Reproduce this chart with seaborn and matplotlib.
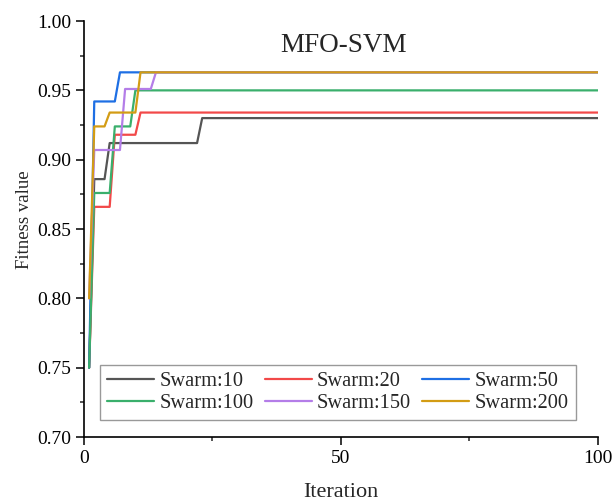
import numpy as np
import pandas as pd
import matplotlib
matplotlib.use("Agg")
import matplotlib.pyplot as plt
from matplotlib.ticker import MultipleLocator
import seaborn as sns

# ---- data (change points; values held constant between them) ----
iterations = list(range(1, 101))
swarm_labels = ["Swarm:10", "Swarm:20", "Swarm:50", "Swarm:100", "Swarm:150", "Swarm:200"]

swarm10_iter = [1, 2, 4, 5, 22, 23, 100]
swarm10_val = [0.750, 0.886, 0.886, 0.912, 0.912, 0.930, 0.930]

swarm20_iter = [1, 2, 5, 6, 10, 11, 100]
swarm20_val = [0.750, 0.866, 0.866, 0.918, 0.918, 0.934, 0.934]

swarm50_iter = [1, 2, 6, 7, 100]
swarm50_val = [0.750, 0.942, 0.942, 0.963, 0.963]

swarm100_iter = [1, 2, 5, 6, 9, 10, 100]
swarm100_val = [0.750, 0.876, 0.876, 0.924, 0.924, 0.950, 0.950]

swarm150_iter = [1, 2, 7, 8, 13, 14, 100]
swarm150_val = [0.800, 0.907, 0.907, 0.951, 0.951, 0.963, 0.963]

swarm200_iter = [1, 2, 4, 5, 10, 11, 100]
swarm200_val = [0.800, 0.924, 0.924, 0.934, 0.934, 0.963, 0.963]

colors = ["#555555", "#f24949", "#1e6fe4", "#3aaf6c", "#b47de8", "#d39c14"]

series_pts = [
    (swarm10_iter, swarm10_val),
    (swarm20_iter, swarm20_val),
    (swarm50_iter, swarm50_val),
    (swarm100_iter, swarm100_val),
    (swarm150_iter, swarm150_val),
    (swarm200_iter, swarm200_val),
]

frames = []
for label, (its, vals) in zip(swarm_labels, series_pts):
    s = pd.Series(vals, index=its).reindex(iterations).ffill()
    frames.append(pd.DataFrame({"Iteration": iterations, "Fitness": s.values, "Swarm": label}))
df = pd.concat(frames, ignore_index=True)

# ---- plot ----
sns.set_style("ticks")
plt.rcParams["font.family"] = ["Liberation Serif", "DejaVu Serif"]

fig = plt.figure(figsize=(6.13, 5.01), dpi=100)
ax = fig.add_axes([0.137, 0.1277, 0.8385, 0.8303])

sns.lineplot(data=df, x="Iteration", y="Fitness", hue="Swarm",
             hue_order=swarm_labels, palette=colors, linewidth=1.6, ax=ax,
             estimator=None)

ax.set_xlim(0, 100)
ax.set_ylim(0.70, 1.00)
ax.xaxis.set_major_locator(MultipleLocator(50))
ax.xaxis.set_minor_locator(MultipleLocator(25))
ax.yaxis.set_major_locator(MultipleLocator(0.05))
ax.yaxis.set_minor_locator(MultipleLocator(0.025))
ax.yaxis.set_major_formatter(matplotlib.ticker.FormatStrFormatter("%.2f"))
ax.tick_params(which="major", direction="out", length=6, width=1.1, pad=3, colors="black")
ax.tick_params(which="minor", direction="out", length=3, width=1.1)
for lab in ax.get_xticklabels() + ax.get_yticklabels():
    lab.set_fontsize(14)

sns.despine(ax=ax)
for sp in ["left", "bottom"]:
    ax.spines[sp].set_linewidth(1.2)
    ax.spines[sp].set_color("black")

ax.set_xlabel("Iteration", fontsize=16, labelpad=12)
ax.set_ylabel("Fitness value", fontsize=13.5)
ax.yaxis.set_label_coords(-0.1, 0.523)

ax.text(0.505, 0.942, "MFO-SVM", transform=ax.transAxes, ha="center", va="center", fontsize=19.5)

handles, labels = ax.get_legend_handles_labels()
order = [0, 3, 1, 4, 2, 5]
leg = ax.legend([handles[i] for i in order], [labels[i] for i in order],
                loc="lower center", bbox_to_anchor=(0.494, 0.04), ncol=3,
                fontsize=14.7, frameon=True, fancybox=False, framealpha=1,
                edgecolor="#999999", handlelength=2.3, handletextpad=0.26,
                columnspacing=0.55, labelspacing=0.12, borderpad=0.35,
                borderaxespad=0)
leg.get_frame().set_linewidth(1.0)

fig.savefig("out.png", dpi=100)
